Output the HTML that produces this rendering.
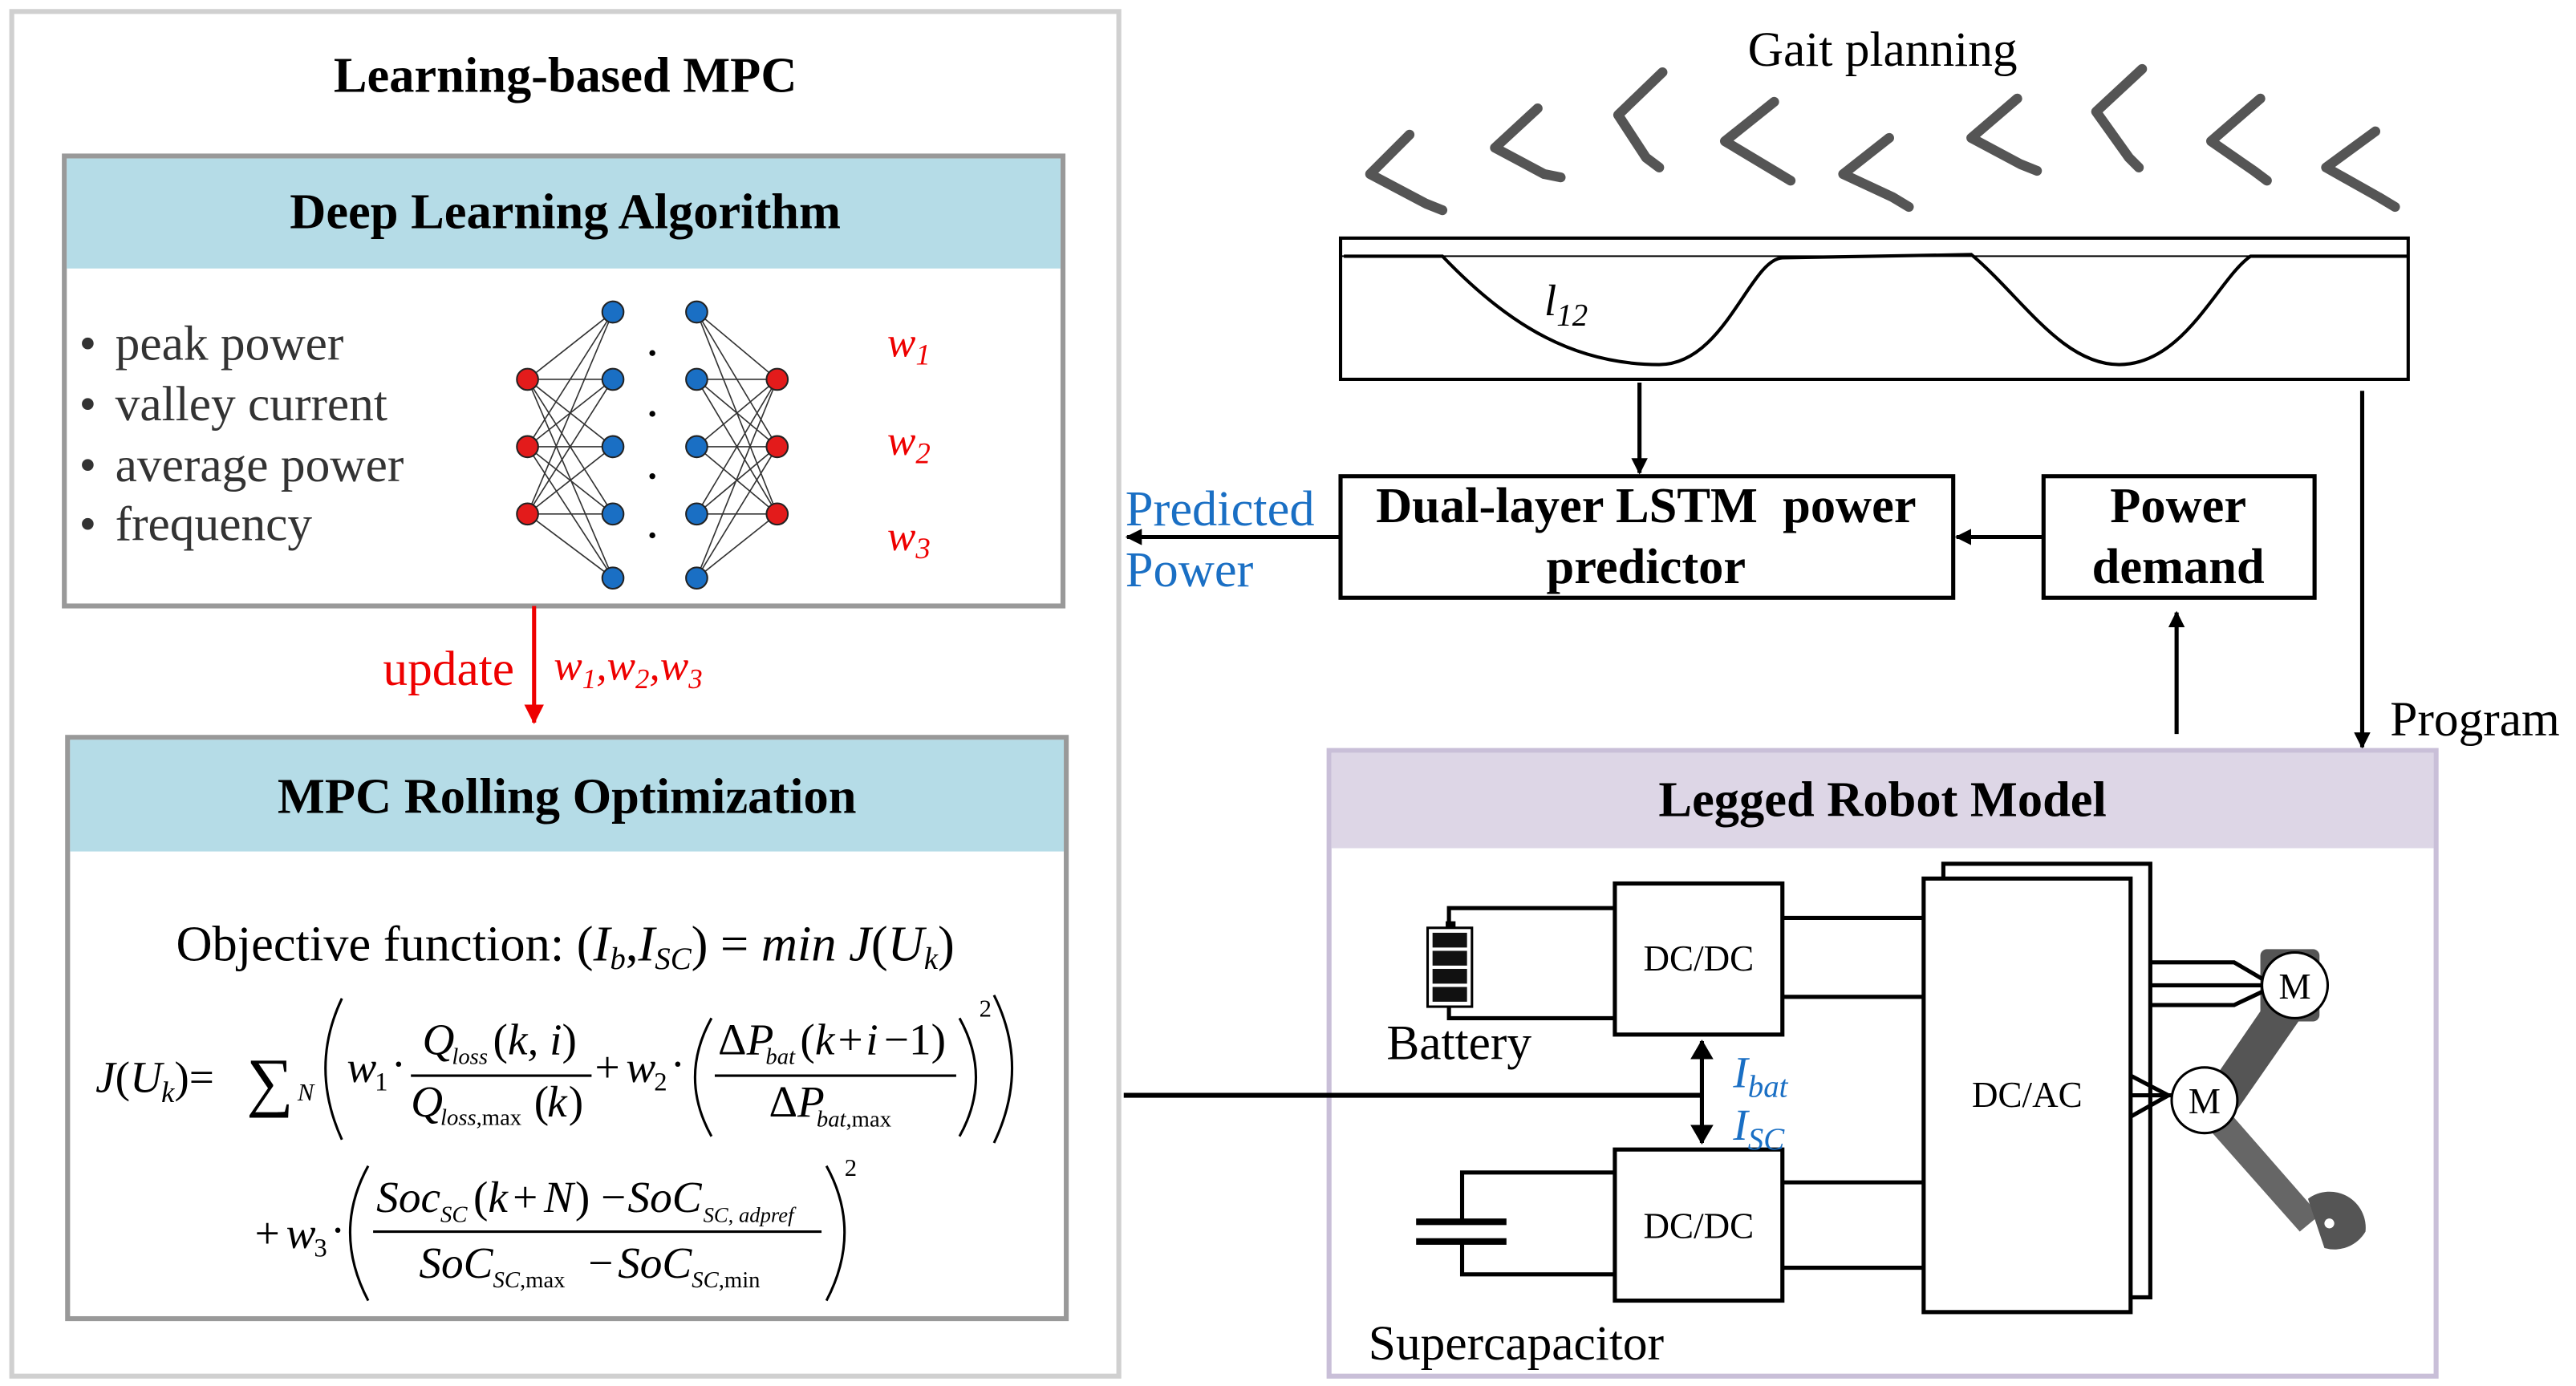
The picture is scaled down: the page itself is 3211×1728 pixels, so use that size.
<!DOCTYPE html>
<html><head><meta charset="utf-8"><style>
html,body{margin:0;padding:0;background:#fff;}
svg{display:block;}
text{font-family:"Liberation Serif",serif;}
</style></head><body>
<svg width="3211" height="1728" viewBox="0 0 1568 844" xmlns="http://www.w3.org/2000/svg">
<defs>
<marker id="ab" markerWidth="10" markerHeight="10" refX="9" refY="5" orient="auto" markerUnits="userSpaceOnUse"><path d="M0,0 L10,5 L0,10 Z" fill="#000"/></marker>
<marker id="ar" markerWidth="12" markerHeight="12" refX="11" refY="6" orient="auto" markerUnits="userSpaceOnUse"><path d="M0,0 L12,6 L0,12 Z" fill="#e00"/></marker>
<marker id="ab2" markerWidth="12" markerHeight="14" refX="11" refY="7" orient="auto-start-reverse" markerUnits="userSpaceOnUse"><path d="M0,0 L12,7 L0,14 Z" fill="#000"/></marker>
</defs>
<rect x="7" y="7" width="674" height="831" fill="#fff" stroke="#d0d0d0" stroke-width="3"/>
<text x="344" y="56" font-size="30.5" font-weight="bold" text-anchor="middle">Learning-based MPC</text>
<rect x="39" y="95" width="608" height="274" fill="#fff" stroke="#999" stroke-width="3"/>
<rect x="40.5" y="96.5" width="605" height="67" fill="#b5dce7"/>
<text x="344" y="139" font-size="30.5" font-weight="bold" text-anchor="middle">Deep Learning Algorithm</text>
<g font-size="30" fill="#333">
<text x="48" y="219">• <tspan dx="4">peak power</tspan></text>
<text x="48" y="256">• <tspan dx="4">valley current</tspan></text>
<text x="48" y="293">• <tspan dx="4">average power</tspan></text>
<text x="48" y="329">• <tspan dx="4">frequency</tspan></text>
</g>
<g stroke="#333" stroke-width="0.8">
<path d="M321,231L373,190M321,231L373,231M321,231L373,272M321,231L373,313M321,231L373,352
M321,272L373,190M321,272L373,231M321,272L373,272M321,272L373,313M321,272L373,352
M321,313L373,190M321,313L373,231M321,313L373,272M321,313L373,313M321,313L373,352
M473,231L424,190M473,231L424,231M473,231L424,272M473,231L424,313M473,231L424,352
M473,272L424,190M473,272L424,231M473,272L424,272M473,272L424,313M473,272L424,352
M473,313L424,190M473,313L424,231M473,313L424,272M473,313L424,313M473,313L424,352"/>
</g>
<g stroke="#222" stroke-width="1">
<circle cx="321" cy="231" r="6.5" fill="#e31b1b"/><circle cx="321" cy="272" r="6.5" fill="#e31b1b"/><circle cx="321" cy="313" r="6.5" fill="#e31b1b"/>
<circle cx="473" cy="231" r="6.5" fill="#e31b1b"/><circle cx="473" cy="272" r="6.5" fill="#e31b1b"/><circle cx="473" cy="313" r="6.5" fill="#e31b1b"/>
<circle cx="373" cy="190" r="6.5" fill="#1a6fc4"/><circle cx="373" cy="231" r="6.5" fill="#1a6fc4"/><circle cx="373" cy="272" r="6.5" fill="#1a6fc4"/><circle cx="373" cy="313" r="6.5" fill="#1a6fc4"/><circle cx="373" cy="352" r="6.5" fill="#1a6fc4"/>
<circle cx="424" cy="190" r="6.5" fill="#1a6fc4"/><circle cx="424" cy="231" r="6.5" fill="#1a6fc4"/><circle cx="424" cy="272" r="6.5" fill="#1a6fc4"/><circle cx="424" cy="313" r="6.5" fill="#1a6fc4"/><circle cx="424" cy="352" r="6.5" fill="#1a6fc4"/>
</g>
<g fill="#000"><circle cx="397" cy="215" r="1.8"/><circle cx="397" cy="252" r="1.8"/><circle cx="397" cy="290" r="1.8"/><circle cx="397" cy="326" r="1.8"/></g>
<g fill="#e00" font-size="26" font-style="italic">
<text x="540" y="217">w<tspan font-size="18" dy="5">1</tspan></text>
<text x="540" y="277">w<tspan font-size="18" dy="5">2</tspan></text>
<text x="540" y="335">w<tspan font-size="18" dy="5">3</tspan></text>
</g>
<line x1="325" y1="369" x2="325" y2="440" stroke="#e00" stroke-width="2.5" marker-end="url(#ar)"/>
<text x="233" y="417" font-size="30" fill="#e00">update</text>
<text x="337" y="414" font-size="26" fill="#e00" font-style="italic">w<tspan font-size="17" dy="5">1</tspan><tspan dy="-5">,w</tspan><tspan font-size="17" dy="5">2</tspan><tspan dy="-5">,w</tspan><tspan font-size="17" dy="5">3</tspan></text>
<rect x="41" y="449" width="608" height="354" fill="#fff" stroke="#999" stroke-width="3"/>
<rect x="42.5" y="450.5" width="605" height="68" fill="#b5dce7"/>
<text x="345" y="495" font-size="30.5" font-weight="bold" text-anchor="middle">MPC Rolling Optimization</text>
<text x="344" y="585" font-size="30.5" text-anchor="middle">Objective function: (<tspan font-style="italic">I</tspan><tspan font-size="19" font-style="italic" dy="5">b</tspan><tspan dy="-5">,</tspan><tspan font-style="italic">I</tspan><tspan font-size="19" font-style="italic" dy="5">SC</tspan><tspan dy="-5">) = </tspan><tspan font-style="italic">min J</tspan>(<tspan font-style="italic">U</tspan><tspan font-size="19" font-style="italic" dy="5">k</tspan><tspan dy="-5">)</tspan></text>
<g font-size="27">
<text x="58" y="665" font-style="italic">J</text><text x="70" y="665">(</text><text x="79" y="665" font-style="italic">U</text><text x="98" y="671" font-size="18" font-style="italic">k</text><text x="106" y="665">)=</text>
<text x="150" y="672" font-size="40">∑</text><text x="181" y="670" font-size="15" font-style="italic">N</text>
<path d="M208,608 Q188,650 208,694" fill="none" stroke="#000" stroke-width="1.5"/>
<text x="211" y="659" font-style="italic">w</text><text x="228" y="664" font-size="16">1</text><text x="238" y="657">·</text>
<text x="257" y="642" font-style="italic">Q</text><text x="275" y="648" font-size="14" font-style="italic">loss</text><text x="300" y="642">(</text><text x="309" y="642" font-style="italic">k, i</text><text x="342" y="642">)</text>
<line x1="250" y1="655" x2="360" y2="655" stroke="#000" stroke-width="1.5"/>
<text x="250" y="680" font-style="italic">Q</text><text x="268" y="685" font-size="14"><tspan font-style="italic">loss</tspan>,max</text><text x="325" y="680">(</text><text x="333" y="680" font-style="italic">k</text><text x="346" y="680">)</text>
<text x="362" y="659">+</text><text x="381" y="659" font-style="italic">w</text><text x="398" y="664" font-size="16">2</text><text x="408" y="657">·</text>
<path d="M433,620 Q413,656 433,692" fill="none" stroke="#000" stroke-width="1.5"/>
<text x="437" y="642">Δ<tspan font-style="italic">P</tspan></text><text x="466" y="648" font-size="14" font-style="italic">bat</text><text x="487" y="642">(</text><text x="496" y="642" font-style="italic">k</text><text x="510" y="642">+</text><text x="527" y="642" font-style="italic">i</text><text x="538" y="642">−1)</text>
<line x1="435" y1="655" x2="582" y2="655" stroke="#000" stroke-width="1.5"/>
<text x="468" y="680">Δ<tspan font-style="italic">P</tspan></text><text x="497" y="686" font-size="14"><tspan font-style="italic">bat</tspan>,max</text>
<path d="M584,620 Q604,656 584,692" fill="none" stroke="#000" stroke-width="1.5"/>
<text x="596" y="619" font-size="15">2</text>
<path d="M605,606 Q627,650 605,696" fill="none" stroke="#000" stroke-width="1.5"/>
</g>
<g font-size="27">
<text x="155" y="760">+</text><text x="174" y="760" font-style="italic">w</text><text x="191" y="765" font-size="16">3</text><text x="201" y="758">·</text>
<path d="M224,710 Q202,750 224,792" fill="none" stroke="#000" stroke-width="1.5"/>
<text x="229" y="738" font-style="italic">Soc</text><text x="268" y="744" font-size="14" font-style="italic">SC</text><text x="288" y="738">(</text><text x="297" y="738" font-style="italic">k</text><text x="312" y="738">+</text><text x="331" y="738" font-style="italic">N</text><text x="350" y="738">) −</text><text x="382" y="738" font-style="italic">SoC</text><text x="428" y="744" font-size="13" font-style="italic">SC, adpref</text>
<line x1="227" y1="750" x2="500" y2="750" stroke="#000" stroke-width="1.5"/>
<text x="255" y="778" font-style="italic">SoC</text><text x="300" y="784" font-size="14"><tspan font-style="italic">SC</tspan>,max</text><text x="358" y="778">−</text><text x="376" y="778" font-style="italic">SoC</text><text x="421" y="784" font-size="14"><tspan font-style="italic">SC</tspan>,min</text>
<path d="M503,710 Q525,750 503,792" fill="none" stroke="#000" stroke-width="1.5"/>
<text x="514" y="716" font-size="15">2</text>
</g>

<text x="1146" y="40" font-size="30" text-anchor="middle">Gait  planning</text>
<g stroke="#555" stroke-width="6" fill="none" stroke-linecap="round" stroke-linejoin="round">
<path d="M858,82 L834,106 L868,124 L878,128"/>
<path d="M936,66 L910,90 L940,106 L950,108"/>
<path d="M1012,44 L985,70 L1002,96 L1010,102"/>
<path d="M1080,62 L1050,86 L1080,104 L1090,110"/>
<path d="M1150,84 L1122,106 L1152,120 L1162,126"/>
<path d="M1228,60 L1200,84 L1230,100 L1240,104"/>
<path d="M1304,42 L1276,68 L1296,96 L1302,102"/>
<path d="M1376,60 L1346,86 L1372,104 L1380,110"/>
<path d="M1446,80 L1416,102 L1448,120 L1458,126"/>
</g>
<rect x="816" y="145" width="650" height="86" fill="none" stroke="#000" stroke-width="2"/>
<line x1="816" y1="156" x2="1466" y2="156" stroke="#000" stroke-width="1"/>
<path d="M818,156 L878,156 C920,200 960,222 1010,222 C1050,222 1065,158 1085,157 L1200,155 C1230,180 1255,222 1290,222 C1330,222 1350,170 1370,156 L1466,156" fill="none" stroke="#000" stroke-width="2"/>
<text x="940" y="192" font-size="27" font-style="italic">l<tspan font-size="19" dy="6">12</tspan></text>
<line x1="998" y1="233" x2="998" y2="288" stroke="#000" stroke-width="2.5" marker-end="url(#ab)"/>
<rect x="816" y="290" width="373" height="74" fill="#fff" stroke="#000" stroke-width="2.5"/>
<text x="1002" y="318" font-size="30.5" font-weight="bold" text-anchor="middle" xml:space="preserve">Dual-layer LSTM  power</text>
<text x="1002" y="355" font-size="30.5" font-weight="bold" text-anchor="middle">predictor</text>
<line x1="816" y1="327" x2="686" y2="327" stroke="#000" stroke-width="2.5" marker-end="url(#ab)"/>
<text x="685" y="320" font-size="30.5" fill="#1a6fc4">Predicted</text>
<text x="685" y="357" font-size="30.5" fill="#1a6fc4">Power</text>
<rect x="1244" y="290" width="165" height="74" fill="#fff" stroke="#000" stroke-width="2.5"/>
<text x="1326" y="318" font-size="30.5" font-weight="bold" text-anchor="middle">Power</text>
<text x="1326" y="355" font-size="30.5" font-weight="bold" text-anchor="middle">demand</text>
<line x1="1244" y1="327" x2="1191" y2="327" stroke="#000" stroke-width="2.5" marker-end="url(#ab)"/>
<line x1="1325" y1="447" x2="1325" y2="373" stroke="#000" stroke-width="2.5" marker-end="url(#ab)"/>
<line x1="1438" y1="238" x2="1438" y2="455" stroke="#000" stroke-width="2.5" marker-end="url(#ab)"/>
<text x="1455" y="448" font-size="30">Program</text>

<rect x="809" y="457" width="674" height="381" fill="#fff" stroke="#c9bfd8" stroke-width="3"/>
<rect x="810.5" y="458.5" width="671" height="58" fill="#ddd6e6"/>
<text x="1146" y="497" font-size="30.5" font-weight="bold" text-anchor="middle">Legged Robot Model</text>
<g stroke="#000" stroke-width="2.5" fill="none">
<rect x="1183" y="526" width="126" height="264" fill="#fff"/>
<rect x="1171" y="535" width="126" height="264" fill="#fff"/>
<rect x="983" y="538" width="102" height="92" fill="#fff"/>
<rect x="983" y="700" width="102" height="92" fill="#fff"/>
<path d="M882,563 L882,553 L983,553"/>
<path d="M882,612 L882,620 L983,620"/>
<path d="M1085,559 L1171,559 M1085,607 L1171,607"/>
<path d="M1085,720 L1171,720 M1085,772 L1171,772"/>
<path d="M983,714 L890,714 L890,744 M890,756 L890,776 L983,776"/>
</g>
<rect x="880" y="561" width="6" height="4" fill="#000"/>
<rect x="869" y="565" width="27" height="48" fill="#fff" stroke="#000" stroke-width="1.5"/>
<g fill="#111"><rect x="872" y="568" width="21" height="9"/><rect x="872" y="579" width="21" height="9"/><rect x="872" y="590" width="21" height="9"/><rect x="872" y="601" width="21" height="9"/></g>
<rect x="862" y="742" width="55" height="4" fill="#000"/>
<rect x="862" y="754" width="55" height="4" fill="#000"/>
<text x="1034" y="591" font-size="22" text-anchor="middle">DC/DC</text>
<text x="1034" y="754" font-size="22" text-anchor="middle">DC/DC</text>
<text x="1234" y="674" font-size="22" text-anchor="middle">DC/AC</text>
<text x="844" y="645" font-size="30">Battery</text>
<text x="833" y="828" font-size="30">Supercapacitor</text>
<line x1="684" y1="667" x2="1036" y2="667" stroke="#000" stroke-width="3"/>
<line x1="1036" y1="634" x2="1036" y2="696" stroke="#000" stroke-width="2.5" marker-start="url(#ab2)" marker-end="url(#ab2)"/>
<text x="1055" y="662" font-size="27" font-style="italic" fill="#1a6fc4">I<tspan font-size="19" dy="6">bat</tspan></text>
<text x="1055" y="694" font-size="27" font-style="italic" fill="#1a6fc4">I<tspan font-size="19" dy="6">SC</tspan></text>
<g fill="#555">
<rect x="1376" y="578" width="36" height="44" rx="4"/>
<path d="M1380,610 L1402,618 L1352,690 L1332,680 Z"/>
<path d="M1338,680 L1356,676 L1412,740 L1400,750 Z" fill="#666"/>
<path d="M1405,730 A22,22 0 0 1 1440,750 A22,22 0 0 1 1415,760 Z" fill="#555"/>
</g>
<circle cx="1418" cy="745" r="3" fill="#fff"/>
<g stroke="#000" stroke-width="2.5" fill="none">
<path d="M1309,586 L1360,586 L1377,596 M1309,600 L1377,600 M1309,612 L1360,612 L1377,604"/>
<path d="M1297,655 L1320,667 M1297,667 L1322,667 M1297,680 L1320,667"/>
</g>
<circle cx="1397" cy="600" r="20" fill="#fff" stroke="#000" stroke-width="1.5"/>
<circle cx="1342" cy="670" r="20" fill="#fff" stroke="#000" stroke-width="1.5"/>
<text x="1397" y="608" font-size="22" text-anchor="middle">M</text>
<text x="1342" y="678" font-size="22" text-anchor="middle">M</text>
</svg>
</body></html>
